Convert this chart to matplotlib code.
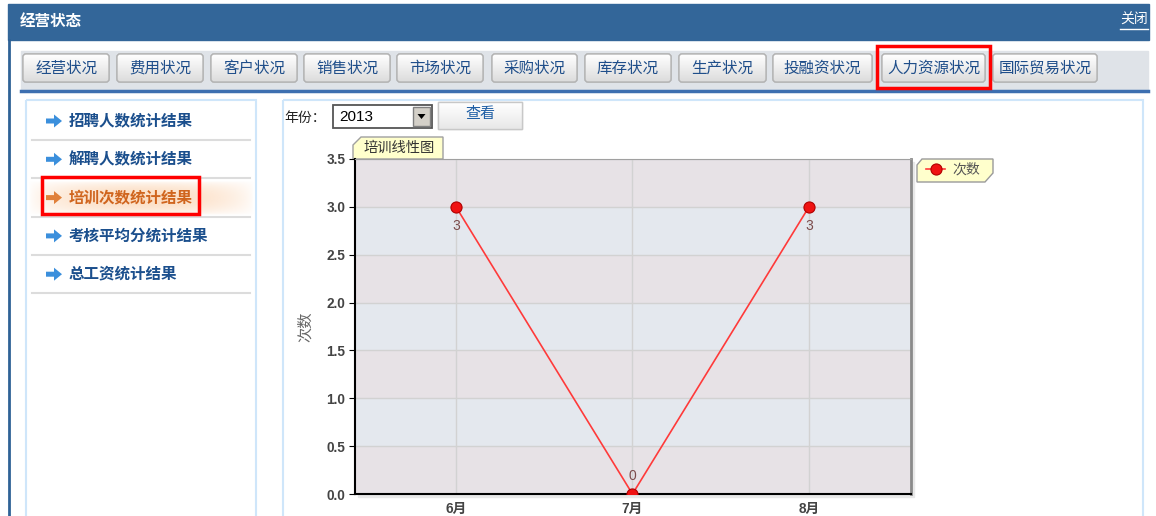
import numpy as np
import matplotlib.pyplot as plt
from matplotlib.patches import Rectangle, FancyBboxPatch, Polygon
from matplotlib.colors import to_rgb

plt.rcParams['font.family'] = ['Liberation Sans', 'Noto Sans CJK SC', 'DejaVu Sans']

W, H = 1156, 516

# chart data
months = ['6月', '7月', '8月']
counts = [3, 0, 3]
series_name = '次数'
chart_title = '培训线性图'
y_label = '次数'
year = '2013'

# page texts
page_title = '经营状态'
close_text = '关闭'
tab_labels = ['经营状况', '费用状况', '客户状况', '销售状况', '市场状况', '采购状况',
              '库存状况', '生产状况', '投融资状况', '人力资源状况', '国际贸易状况']
menu_items = ['招聘人数统计结果', '解聘人数统计结果', '培训次数统计结果',
              '考核平均分统计结果', '总工资统计结果']
active_tab = 9
active_menu = 2

# layout (pixels)
tab_x = [(23, 109), (117, 203), (211, 297), (304, 390), (397, 483), (492, 577),
         (585, 671), (679, 766), (773, 872), (882, 985), (993, 1097)]

fig = plt.figure(figsize=(W / 100, H / 100), dpi=100)
bg = fig.add_axes([0, 0, 1, 1])
bg.axis('off')


def grad_fill(x0, y0, x1, y1, c_top, c_bot, clip):
    a = np.array(to_rgb(c_top))
    b = np.array(to_rgb(c_bot))
    t = np.linspace(0, 1, 32)[:, None]
    img = (a * (1 - t) + b * t)[:, None, :]
    im = bg.imshow(img, extent=(x0, x1, y1, y0), aspect='auto',
                   interpolation='bilinear', zorder=2)
    im.set_clip_path(clip)


# header bar
bg.add_patch(Rectangle((8, 4), 1141, 36, color='#336699', zorder=1))
bg.text(20, 21, page_title, color='white', fontsize=11.2, fontweight='bold', va='center')
bg.text(1148, 20, close_text, color='white', fontsize=10, ha='right', va='center')
bg.plot([1120, 1148], [29, 29], color='white', lw=1)
bg.plot([9, 9], [40, H], color='#2f6296', lw=2)

# toolbar
bg.add_patch(Rectangle((21, 51), 1127, 38, color='#dfe3e8', zorder=1))
bg.plot([21, 1148], [91, 91], color='#3d6fb0', lw=2.5)
for i, (lab, (x0, x1)) in enumerate(zip(tab_labels, tab_x)):
    p = FancyBboxPatch((x0 + 3, 57), x1 - x0 - 6, 22, boxstyle='round,pad=3',
                       fc='#f2f2f2', ec='#b4b4b4', lw=1, zorder=2)
    bg.add_patch(p)
    grad_fill(x0, 54, x1, 82, '#ffffff', '#dcdcdc', p)
    bg.add_patch(FancyBboxPatch((x0 + 3, 57), x1 - x0 - 6, 22, boxstyle='round,pad=3',
                                fill=False, ec='#b4b4b4', lw=1, zorder=3))
    bg.text((x0 + x1) / 2, 68, lab, color='#1f4e8a', fontsize=11.2,
            ha='center', va='center', zorder=4)
x0, x1 = tab_x[active_tab]
bg.add_patch(Rectangle((x0 - 5, 46), x1 - x0 + 10, 42, fill=False, ec='red', lw=2.5, zorder=5))

# left menu
bg.add_patch(Rectangle((26, 100), 230, 430, fill=False, ec='#cfe6fa', lw=1.5))
for i, item in enumerate(menu_items):
    yc = 121 + 38.3 * i
    ys = 140 + 38.3 * i
    active = i == active_menu
    if active:
        u = np.linspace(0, 1, 120)[None, :]
        v = np.linspace(0, 1, 20)[:, None]
        img = np.zeros((20, 120, 4))
        img[..., :3] = to_rgb('#fbd0aa')
        img[..., 3] = 0.7 * np.sin(np.pi * u) ** 0.6 * np.sin(np.pi * v) ** 0.6
        bg.imshow(img, extent=(28, 255, ys - 1, ys - 37), aspect='auto',
                  interpolation='bilinear', zorder=1)
    col = '#d0651e' if active else '#1b4f8d'
    acol = '#e0803a' if active else '#3b8fdc'
    arrow = [(46, yc - 2.5), (54, yc - 2.5), (54, yc - 6.5), (62, yc), (54, yc + 6.5),
             (54, yc + 2.5), (46, yc + 2.5)]
    bg.add_patch(Polygon(arrow, closed=True, fc=acol, ec='none', zorder=3))
    bg.text(69, yc, item, color=col, fontsize=11.2, fontweight='bold', va='center', zorder=3)
    bg.plot([32, 250], [ys, ys], color='#dcdcdc', lw=1.5, zorder=2)
    if active:
        bg.add_patch(Rectangle((42, yc - 21), 157, 37, fill=False, ec='red', lw=2.5, zorder=5))

# right panel + controls
bg.add_patch(Rectangle((283, 100), 860, 430, fill=False, ec='#cfe6fa', lw=1.5))
bg.text(284, 118, '年份：', fontsize=10, color='#222', va='center')
bg.add_patch(Rectangle((333, 105), 99, 23, fc='white', ec='#555555', lw=1.3, zorder=2))
bg.text(339, 117, year, fontsize=11, color='black', va='center', zorder=3)
bg.add_patch(Rectangle((413, 107), 17, 19, fc='#d4d0c8', ec='#808080', lw=1, zorder=3))
bg.add_patch(Polygon([(417.5, 114), (425.5, 114), (421.5, 119)], closed=True, fc='black', zorder=4))
btn = Rectangle((438, 102), 84, 27, fc='#f5f5f5', ec='#c8c8c8', lw=1, zorder=2)
bg.add_patch(btn)
grad_fill(438, 102, 522, 129, '#ffffff', '#e8e8e8', btn)
bg.add_patch(Rectangle((438, 102), 84, 27, fill=False, ec='#c8c8c8', lw=1, zorder=3))
bg.text(480, 114, '查看', fontsize=10.8, color='#1f5fa5', ha='center', va='center', zorder=4)

# chart title tab and shadow
bg.add_patch(Polygon([(353, 159), (353, 145), (361, 137), (443, 137), (443, 159)],
                     closed=True, fc='#ffffcc', ec='#a0a0a0', lw=1, zorder=2))
bg.text(399, 148, chart_title, fontsize=10.3, color='#333333', ha='center', va='center', zorder=3)
bg.add_patch(Rectangle((358, 162), 556, 335, color='#e8e8e8', zorder=1))

# legend background
bg.add_patch(Polygon([(922, 159), (993, 159), (993, 173), (985, 182), (917, 182), (917, 165)],
                     closed=True, fc='#ffffcc', ec='#9a9a9a', lw=1, zorder=2))

bg.set_xlim(0, W)
bg.set_ylim(H, 0)

# chart
ax = fig.add_axes([355 / W, 1 - 494 / H, (911 - 355) / W, (494 - 159) / H])
x = np.arange(len(months))
ax.set_xlim(-0.572, 2.578)
ax.set_ylim(0, 3.5)
yt = np.arange(0, 3.51, 0.5)
for i, y0 in enumerate(yt[:-1]):
    ax.axhspan(y0, y0 + 0.5, color='#e7e2e6' if i % 2 == 0 else '#e4e8ee', zorder=0, lw=0)
ax.set_axisbelow(True)
ax.grid(color='#d2d2d2', lw=1)
line, = ax.plot(x, counts, color='#ff3a3a', lw=1.2, marker='o', ms=8,
                mfc='#f01212', mec='#b00000', mew=0.8, zorder=3, label=series_name)
for xi, v in zip(x, counts):
    off = -19 if v > 0 else 18
    ax.annotate(str(v), (xi, v), xytext=(0, off), textcoords='offset pixels',
                ha='center', va='center', fontsize=10, color='#7b4b4b')
ax.set_xticks(x, months)
ax.set_yticks(yt, [f'{v:.1f}' for v in yt])
ax.tick_params(axis='y', length=4, color='black', labelcolor='#444444', labelsize=9.8, pad=3)
ax.tick_params(axis='x', length=0, labelcolor='#444444', labelsize=9.8, pad=6)
for lbl in ax.get_xticklabels() + ax.get_yticklabels():
    lbl.set_fontweight('bold')
ax.set_ylabel(y_label, color='#666666', fontsize=11)
ax.yaxis.set_label_coords(-42 / 556, 0.5)
ax.spines['left'].set_color('black')
ax.spines['left'].set_linewidth(1.5)
ax.spines['bottom'].set_color('black')
ax.spines['bottom'].set_linewidth(1.5)
ax.spines['top'].set_color('#a0a0a0')
ax.spines['right'].set_color('#8a8a8a')
ax.spines['right'].set_linewidth(2)

leg = ax.legend(loc='center left', bbox_to_anchor=(926 / W, 1 - 170 / H),
                bbox_transform=fig.transFigure, frameon=False, borderpad=0,
                borderaxespad=0, handlelength=1.4, handletextpad=0.5, fontsize=10)
for t in leg.get_texts():
    t.set_color('#555555')

fig.savefig('out.png', dpi=100)
